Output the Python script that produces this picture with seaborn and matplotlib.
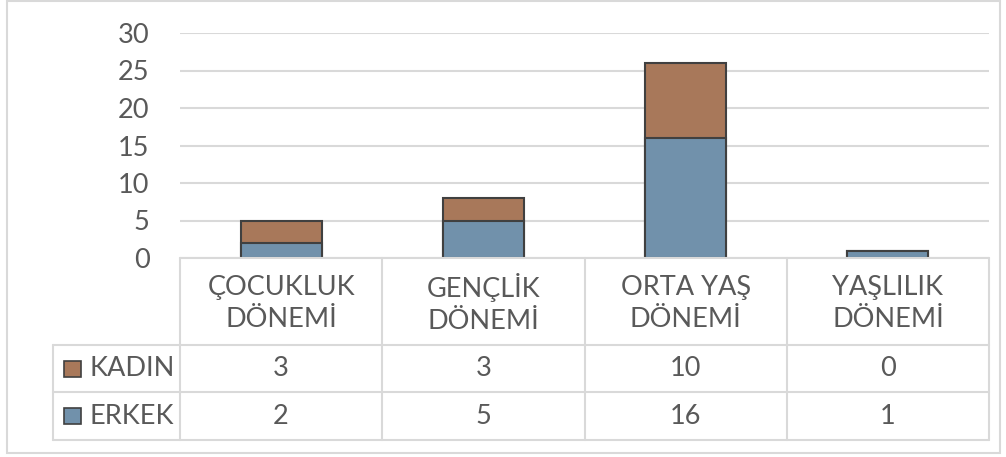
import numpy as np
import matplotlib.pyplot as plt
import matplotlib.lines as mlines
import matplotlib.patches as mpatches
import pandas as pd
import seaborn as sns

# data
categories = ["ÇOCUKLUK\nDÖNEMİ", "GENÇLİK\nDÖNEMİ", "ORTA YAŞ\nDÖNEMİ", "YAŞLILIK\nDÖNEMİ"]
kadin = [3, 3, 10, 0]
erkek = [2, 5, 16, 1]
series_names = ["KADIN", "ERKEK"]
yticks = [0, 5, 10, 15, 20, 25, 30]

kadin_color = "#A8785A"
erkek_color = "#7191AB"
edge_color = "#404040"
text_color = "#595959"
grid_color = "#D9D9D9"
fsize = 19.5

sns.set_style("white")
plt.rcParams['font.family'] = ['Lato', 'DejaVu Sans']

W, H = 1006, 457
fig = plt.figure(figsize=(W / 100, H / 100), dpi=100)


def fx(x):
    return x / W


def fy(y):
    return 1 - y / H


# plot area in pixel coords
left, right, top, bottom = 180, 989, 33, 258
ax = fig.add_axes([fx(left), fy(bottom), fx(right) - fx(left), fy(top) - fy(bottom)])

df = pd.DataFrame({"cat": categories, "KADIN": kadin, "ERKEK": erkek})
df["total"] = df["KADIN"] + df["ERKEK"]

# stacked bars: total first, then erkek over it
sns.barplot(data=df, x="cat", y="total", color=kadin_color, width=0.4,
            edgecolor=edge_color, linewidth=1.5, saturation=1, ax=ax)
sns.barplot(data=df, x="cat", y="ERKEK", color=erkek_color, width=0.4,
            edgecolor=edge_color, linewidth=1.5, saturation=1, ax=ax)

ax.set_ylim(0, 30)
ax.set_xlim(-0.5, 3.5)
ax.set_yticks(yticks)
ax.set_yticklabels([str(t) for t in yticks], fontsize=fsize, color=text_color)
ax.tick_params(axis="y", length=0, pad=22)
ax.set_xticks([])
ax.set_xlabel("")
ax.set_ylabel("")
ax.yaxis.grid(True, color=grid_color, linewidth=1.5)
ax.set_axisbelow(True)
for s in ax.spines.values():
    s.set_visible(False)

# data table under the plot
col_edges = np.linspace(left, right, len(categories) + 1)
label_left = 53
row_edges = [258, 345, 392, 440]


def hline(y, x0, x1):
    fig.add_artist(mlines.Line2D([fx(x0), fx(x1)], [fy(y), fy(y)],
                                 color=grid_color, linewidth=1.5))


def vline(x, y0, y1):
    fig.add_artist(mlines.Line2D([fx(x), fx(x)], [fy(y0), fy(y1)],
                                 color=grid_color, linewidth=1.5))


hline(row_edges[0], left, right)
for y in row_edges[1:]:
    hline(y, label_left, right)
for x in col_edges:
    vline(x, row_edges[0], row_edges[-1])
vline(label_left, row_edges[1], row_edges[-1])

for i, cat in enumerate(categories):
    cx = (col_edges[i] + col_edges[i + 1]) / 2
    fig.text(fx(cx), fy((row_edges[0] + row_edges[1]) / 2 + 2), cat,
             ha="center", va="center", fontsize=fsize, color=text_color,
             linespacing=1.35)
    fig.text(fx(cx), fy((row_edges[1] + row_edges[2]) / 2), str(kadin[i]),
             ha="center", va="center", fontsize=fsize, color=text_color)
    fig.text(fx(cx), fy((row_edges[2] + row_edges[3]) / 2), str(erkek[i]),
             ha="center", va="center", fontsize=fsize, color=text_color)

# legend keys in the table
for r, (name, col) in enumerate(zip(series_names, [kadin_color, erkek_color])):
    cy = (row_edges[r + 1] + row_edges[r + 2]) / 2
    fig.add_artist(mpatches.Rectangle((fx(64), fy(cy + 8)), fx(17), 16 / H,
                                      facecolor=col, edgecolor=edge_color,
                                      linewidth=1.2))
    fig.text(fx(89), fy(cy), name, ha="left", va="center",
             fontsize=fsize, color=text_color)

# outer chart border
fig.add_artist(mpatches.Rectangle((fx(7), fy(453)), fx(993), 452 / H,
                                  fill=False, edgecolor=grid_color, linewidth=1.5))

fig.savefig("out.png", dpi=100)
